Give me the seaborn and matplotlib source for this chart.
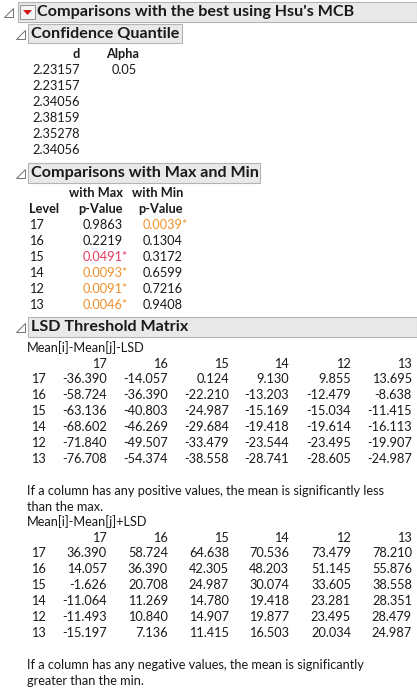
import matplotlib
matplotlib.use("Agg")
import matplotlib.pyplot as plt
from matplotlib.patches import Rectangle, Polygon
import seaborn as sns

# ======================
# DATA
# ======================
d_values = ["2.23157", "2.23157", "2.34056", "2.38159", "2.35278", "2.34056"]
alpha = "0.05"

levels = ["17", "16", "15", "14", "12", "13"]
p_max = ["0.9863", "0.2219", "0.0491*", "0.0093*", "0.0091*", "0.0046*"]
p_min = ["0.0039*", "0.1304", "0.3172", "0.6599", "0.7216", "0.9408"]

lsd_minus = [
    [-36.390, -14.057, 0.124, 9.130, 9.855, 13.695],
    [-58.724, -36.390, -22.210, -13.203, -12.479, -8.638],
    [-63.136, -40.803, -24.987, -15.169, -15.034, -11.415],
    [-68.602, -46.269, -29.684, -19.418, -19.614, -16.113],
    [-71.840, -49.507, -33.479, -23.544, -23.495, -19.907],
    [-76.708, -54.374, -38.558, -28.741, -28.605, -24.987],
]
lsd_plus = [
    [36.390, 58.724, 64.638, 70.536, 73.479, 78.210],
    [14.057, 36.390, 42.305, 48.203, 51.145, 55.876],
    [-1.626, 20.708, 24.987, 30.074, 33.605, 38.558],
    [-11.064, 11.269, 14.780, 19.418, 23.281, 28.351],
    [-11.493, 10.840, 14.907, 19.877, 23.495, 28.479],
    [-15.197, 7.136, 11.415, 16.503, 20.034, 24.987],
]

# ======================
# STYLE
# ======================
sns.set_theme(style="white")
plt.rcParams["font.family"] = ["Lato", "DejaVu Sans"]

FS = 9.2
HFS = 11.6
TXT = "#1a1a1a"
ORANGE = "#f0902a"
RED = "#e83a62"

fig = plt.figure(figsize=(4.17, 6.93), dpi=100)
ax = fig.add_axes([0, 0, 1, 1])
ax.set_xlim(0, 417)
ax.set_ylim(693, 0)
ax.axis("off")


def header(x0, x1, y0, y1, title, tri_x):
    ax.add_patch(Rectangle((x0, y0), x1 - x0, y1 - y0, fc="#e9e9e9", ec="#b4b4b4", lw=0.8))
    ax.add_patch(Polygon([(tri_x, (y0 + y1) / 2 + 5), (tri_x + 9, (y0 + y1) / 2 + 5),
                          (tri_x + 9, (y0 + y1) / 2 - 4)], closed=True,
                         fc="white", ec="#707070", lw=0.7))
    return ax.text(x0 + 3, (y0 + y1) / 2, title, fontsize=HFS, fontweight="bold",
                   color=TXT, va="center", ha="left")


def t(x, y, s, ha="right", color=TXT, weight="normal"):
    ax.text(x, y, s, fontsize=FS, ha=ha, va="center", color=color, fontweight=weight)


# main header
header(18, 417, 2, 22, "", 4)
ax.add_patch(Rectangle((20, 5), 15, 14, fc="#f4f4f4", ec="#909090", lw=0.7))
ax.add_patch(Polygon([(23, 10), (32, 10), (27.5, 15)], closed=True, fc="#d01818", ec="none"))
ax.text(37, 12, "Comparisons with the best using Hsu's MCB", fontsize=HFS,
        fontweight="bold", color=TXT, va="center")

# Confidence Quantile
header(28, 182, 24, 43, "Confidence Quantile", 16)
t(80, 54, "d", weight="bold")
t(139, 54, "Alpha", weight="bold")
for i, v in enumerate(d_values):
    t(80, 70 + 16 * i, v)
t(137, 70, alpha)

# Comparisons with Max and Min
header(28, 260, 163, 183, "Comparisons with Max and Min", 16)
t(123, 193, "with Max", weight="bold")
t(183, 193, "with Min", weight="bold")
t(29, 209, "Level", ha="left", weight="bold")
t(123, 209, "p-Value", weight="bold")
t(183, 209, "p-Value", weight="bold")


def pcolor(s):
    if not s.endswith("*"):
        return TXT
    v = float(s[:-1])
    return RED if v > 0.02 else ORANGE


for i, lv in enumerate(levels):
    y = 225 + 16 * i
    t(29, y, lv, ha="left")
    t(83, y, p_max[i], ha="left", color=pcolor(p_max[i]))
    t(143, y, p_min[i], ha="left", color=pcolor(p_min[i]))

# LSD Threshold Matrix
header(28, 417, 317, 337, "LSD Threshold Matrix", 16)
col_right = [107, 168, 229, 289, 351, 412]


def matrix(y_label, label, mat):
    t(27, y_label, label, ha="left")
    for j, lv in enumerate(levels):
        t(col_right[j], y_label + 16, lv)
    for i, lv in enumerate(levels):
        y = y_label + 31 + 16 * i
        t(31, y, lv, ha="left")
        for j, v in enumerate(mat[i]):
            t(col_right[j], y, f"{v:.3f}")


matrix(348, "Mean[i]-Mean[j]-LSD", lsd_minus)
t(27, 491, "If a column has any positive values, the mean is significantly less", ha="left")
t(27, 507, "than the max.", ha="left")
matrix(522, "Mean[i]-Mean[j]+LSD", lsd_plus)
t(27, 665, "If a column has any negative values, the mean is significantly", ha="left")
t(27, 681, "greater than the min.", ha="left")

fig.savefig("out.png", dpi=100, facecolor="white")
